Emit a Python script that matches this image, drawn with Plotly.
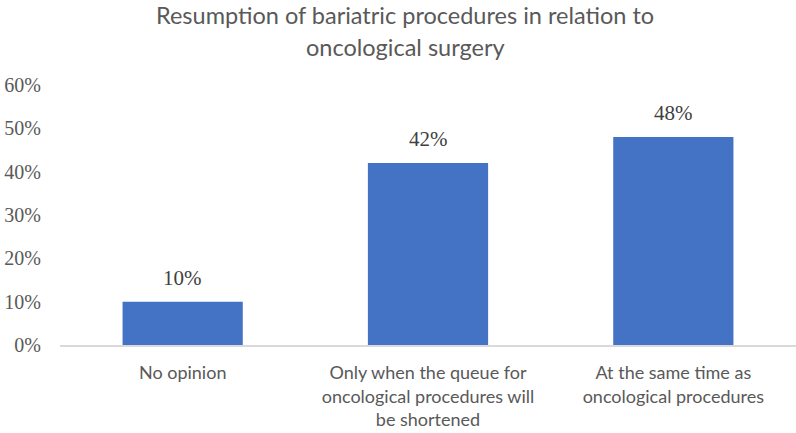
import plotly.graph_objects as go

categories = ["No opinion",
              "Only when the queue for<br>oncological procedures will<br>be shortened",
              "At the same time as<br>oncological procedures"]
values = [10, 42, 48]
y_ticks = [0, 10, 20, 30, 40, 50, 60]
y_tick_labels = [f"{t}%" for t in y_ticks]

SANS = "Lato, Liberation Sans, sans-serif"
SERIF = "Liberation Serif, serif"

fig = go.Figure(go.Bar(
    x=categories, y=values,
    marker=dict(color="#4472C4", line=dict(width=0)),
    hoverinfo="skip",
))

for c, v in zip(categories, values):
    fig.add_annotation(x=c, y=v, text=f"{v}%", showarrow=False,
                       yanchor="middle", yshift=24,
                       font=dict(family=SERIF, size=21, color="#404040"))

fig.add_annotation(xref="paper", yref="paper", x=0.469, y=1, yanchor="middle", yshift=70,
                   borderpad=0,
                   text="Resumption of bariatric procedures in relation to", showarrow=False,
                   font=dict(family=SANS, size=23.5, color="#595959"))
fig.add_annotation(xref="paper", yref="paper", x=0.469, y=1, yanchor="middle", yshift=38,
                   borderpad=0,
                   text="oncological surgery", showarrow=False,
                   font=dict(family=SANS, size=23.5, color="#595959"))

fig.update_layout(
    width=796, height=433,
    margin=dict(l=60, r=0, t=85, b=88),
    paper_bgcolor="white", plot_bgcolor="white",
    bargap=0.51,
    showlegend=False,
    xaxis=dict(showline=True, linecolor="#d9d9d9", linewidth=1.5, ticks="",
               ticklabelstandoff=11,
               tickfont=dict(family=SANS, size=18, color="#595959")),
    yaxis=dict(range=[0, 60], tickmode="array", tickvals=y_ticks, ticktext=y_tick_labels,
               showgrid=False, zeroline=False, showline=False, ticklabelstandoff=18,
               tickfont=dict(family=SERIF, size=20, color="#595959")),
)

fig.write_html("out.html", config={"displayModeBar": False},
               post_script="document.body.style.margin='0';")
